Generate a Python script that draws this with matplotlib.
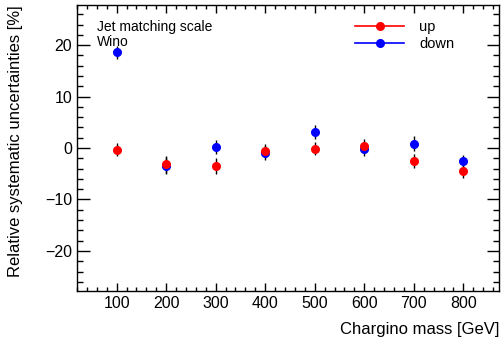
import matplotlib
matplotlib.use("Agg")
import matplotlib.pyplot as plt
from matplotlib.ticker import MultipleLocator
from matplotlib.lines import Line2D

plt.rcParams['font.family'] = ['Liberation Sans', 'DejaVu Sans']

masses = [100, 200, 300, 400, 500, 600, 700, 800]
up_vals = [-0.3, -3.2, -3.5, -0.6, -0.1, 0.4, -2.5, -4.5]
up_errs = [1.2, 1.6, 1.5, 1.3, 1.3, 1.3, 1.4, 1.3]
down_vals = [18.6, -3.4, 0.2, -1.0, 3.1, -0.2, 0.85, -2.6]
down_errs = [1.2, 1.6, 1.4, 1.3, 1.3, 1.3, 1.4, 1.3]

fig = plt.figure(figsize=(5.01, 3.49), dpi=100)
ax = fig.add_axes([0.1537, 0.166, 0.8423, 0.8197])

for vals, errs, col in [(down_vals, down_errs, 'blue'), (up_vals, up_errs, 'red')]:
    ax.errorbar(masses, vals, yerr=errs, fmt='none', ecolor='black', elinewidth=1.0, zorder=2)
    ax.plot(masses, vals, 'o', color=col, markersize=5.5, zorder=3)

ax.set_xlim(20, 872)
ax.set_ylim(-27.8, 27.8)
ax.xaxis.set_major_locator(MultipleLocator(100))
ax.xaxis.set_minor_locator(MultipleLocator(20))
ax.yaxis.set_major_locator(MultipleLocator(10))
ax.yaxis.set_minor_locator(MultipleLocator(2))
ax.tick_params(which='both', direction='in', top=True, right=True, labelsize=11.5, width=1.0)
ax.tick_params(axis='x', which='major', length=5.8)
ax.tick_params(axis='x', which='minor', length=2.9)
ax.tick_params(axis='y', which='major', length=9)
ax.tick_params(axis='y', which='minor', length=4.5)
for s in ax.spines.values():
    s.set_linewidth(1.0)

ax.set_xlabel('Chargino mass [GeV]', fontsize=12, loc='right', labelpad=8)
ax.set_ylabel('Relative systematic uncertainties [%]', fontsize=12, loc='top', labelpad=16)

ax.text(0.047, 0.924, 'Jet matching scale', transform=ax.transAxes, fontsize=10, va='center')
ax.text(0.047, 0.869, 'Wino', transform=ax.transAxes, fontsize=10, va='center')

handles = [Line2D([], [], color='red', marker='o', markersize=5.5, lw=1.2),
           Line2D([], [], color='blue', marker='o', markersize=5.5, lw=1.2)]
ax.legend(handles, ['up', 'down'], loc='upper left', bbox_to_anchor=(0.627, 0.993),
          frameon=False, fontsize=10.5, handlelength=3.4, labelspacing=0.2, handletextpad=1.0)

fig.savefig('out.png', dpi=100)
